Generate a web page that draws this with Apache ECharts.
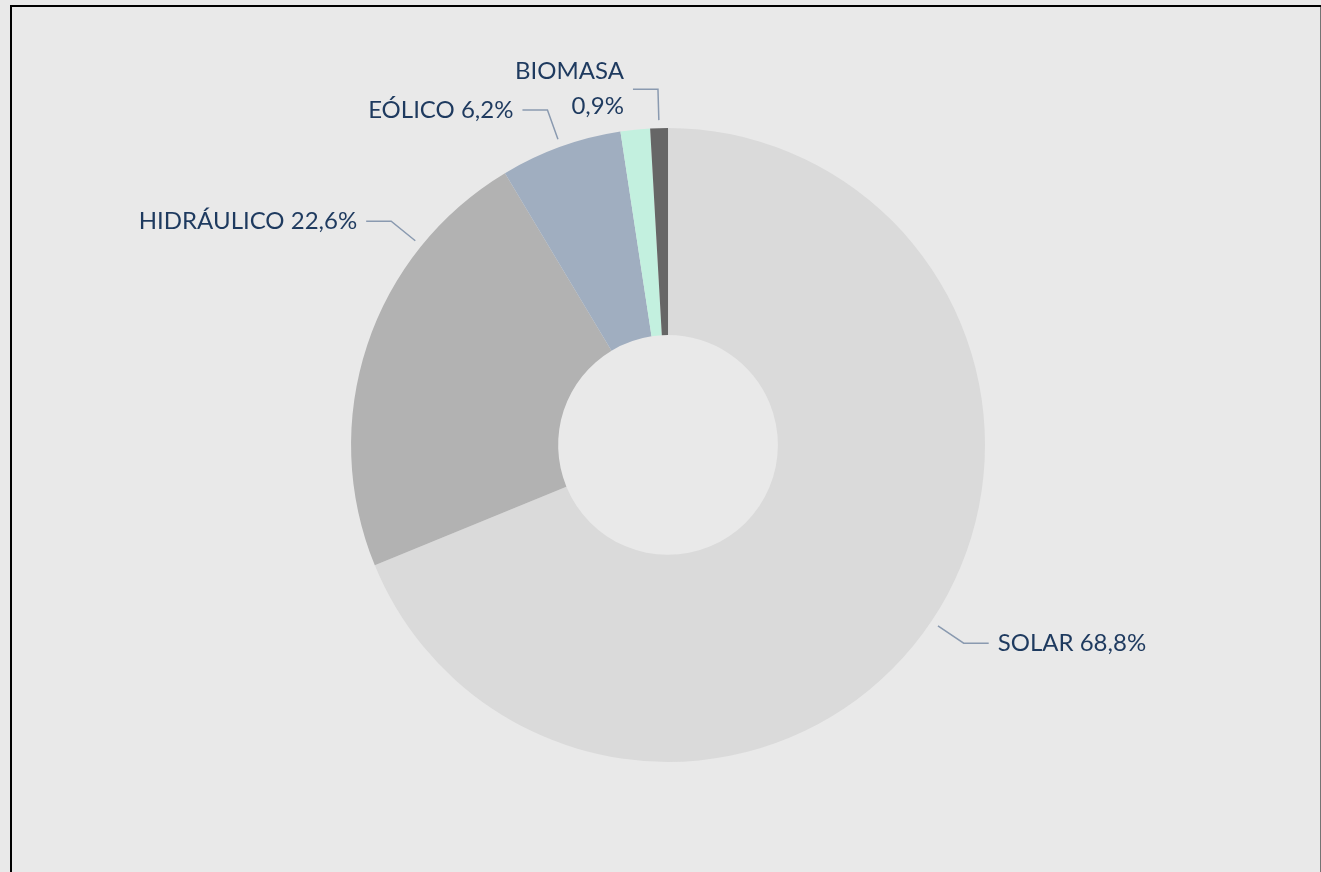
<!DOCTYPE html>
<html>
<head>
<meta charset="utf-8">
<script src="https://cdn.jsdelivr.net/npm/echarts@6/dist/echarts.min.js"></script>
<style>
html,body{margin:0;padding:0;background:#e9e9e9;}
#c{width:1321px;height:872px;}
</style>
</head>
<body>
<div id="c"></div>
<script>
// ---- data ----
const categories = ['SOLAR', 'HIDRÁULICO', 'EÓLICO', 'OTROS', 'BIOMASA'];
const values = [68.8, 22.6, 6.2, 1.5, 0.9];
const showLabel = [true, true, true, false, true];
const twoLineLabel = [false, false, false, false, true];

// ---- styling ----
const colors = ['#dadada', '#b2b2b2', '#a0aec0', '#c3f0df', '#666666'];
// position of the leader-line anchor inside each slice (0 = start, 1 = end)
const anchorFraction = [0.5, 0.753, 0.5, 0.5, 0.5];
const LINE_GAP = 8, LINE_LEN = 31, LINE_LEN2 = 25, TEXT_GAP = 9;

const chart = echarts.init(document.getElementById('c'), null, {renderer: 'canvas'});

function fmt(v) { return v.toFixed(1).replace('.', ','); }

const data = categories.map((name, i) => ({
  name: name,
  value: values[i],
  itemStyle: {color: colors[i]},
  label: {show: showLabel[i]},
  labelLine: {show: showLabel[i]}
}));

const option = {
  backgroundColor: '#e9e9e9',
  animation: false,
  graphic: [{
    type: 'rect',
    shape: {x: 11, y: 6, width: 1310.5, height: 880},
    style: {fill: 'none', stroke: '#000', lineWidth: 2},
    silent: true, z: 100
  }],
  series: [{
    type: 'pie',
    center: ['50.57%', '51.03%'],
    radius: ['25.2%', '72.7%'],
    startAngle: 90,
    clockwise: true,
    avoidLabelOverlap: false,
    data: data,
    itemStyle: {borderWidth: 0},
    emphasis: {disabled: true},
    label: {
      position: 'outside',
      fontFamily: 'Lato',
      fontSize: 24,
      color: '#1e3a5f',
      lineHeight: 35,
      formatter: function (p) {
        const i = p.dataIndex;
        return p.name + (twoLineLabel[i] ? '\n' : ' ') + fmt(p.value) + '%';
      }
    },
    labelLine: {
      show: true,
      length: LINE_LEN,
      length2: LINE_LEN2,
      lineStyle: {color: '#8a9ab0', width: 1.5}
    },
    labelLayout: function (params) {
      const i = params.dataIndex;
      const sd = chart.getModel().getSeriesByIndex(0).getData();
      const lay = sd.getItemLayout(i);
      if (!lay) return {};
      const a = lay.startAngle + (lay.endAngle - lay.startAngle) * anchorFraction[i];
      const c = Math.cos(a), s = Math.sin(a);
      const r0 = lay.r + LINE_GAP;
      const p0 = [lay.cx + r0 * c, lay.cy + r0 * s];
      const p1 = [p0[0] + LINE_LEN * c, p0[1] + LINE_LEN * s];
      const dir = c < 0 ? -1 : 1;
      const p2 = [p1[0] + dir * LINE_LEN2, p1[1]];
      return {
        x: p2[0] + dir * TEXT_GAP,
        y: p2[1],
        align: dir < 0 ? 'right' : 'left',
        verticalAlign: 'middle',
        labelLinePoints: [p0, p1, p2]
      };
    }
  }]
};
chart.setOption(option);
</script>
</body>
</html>
